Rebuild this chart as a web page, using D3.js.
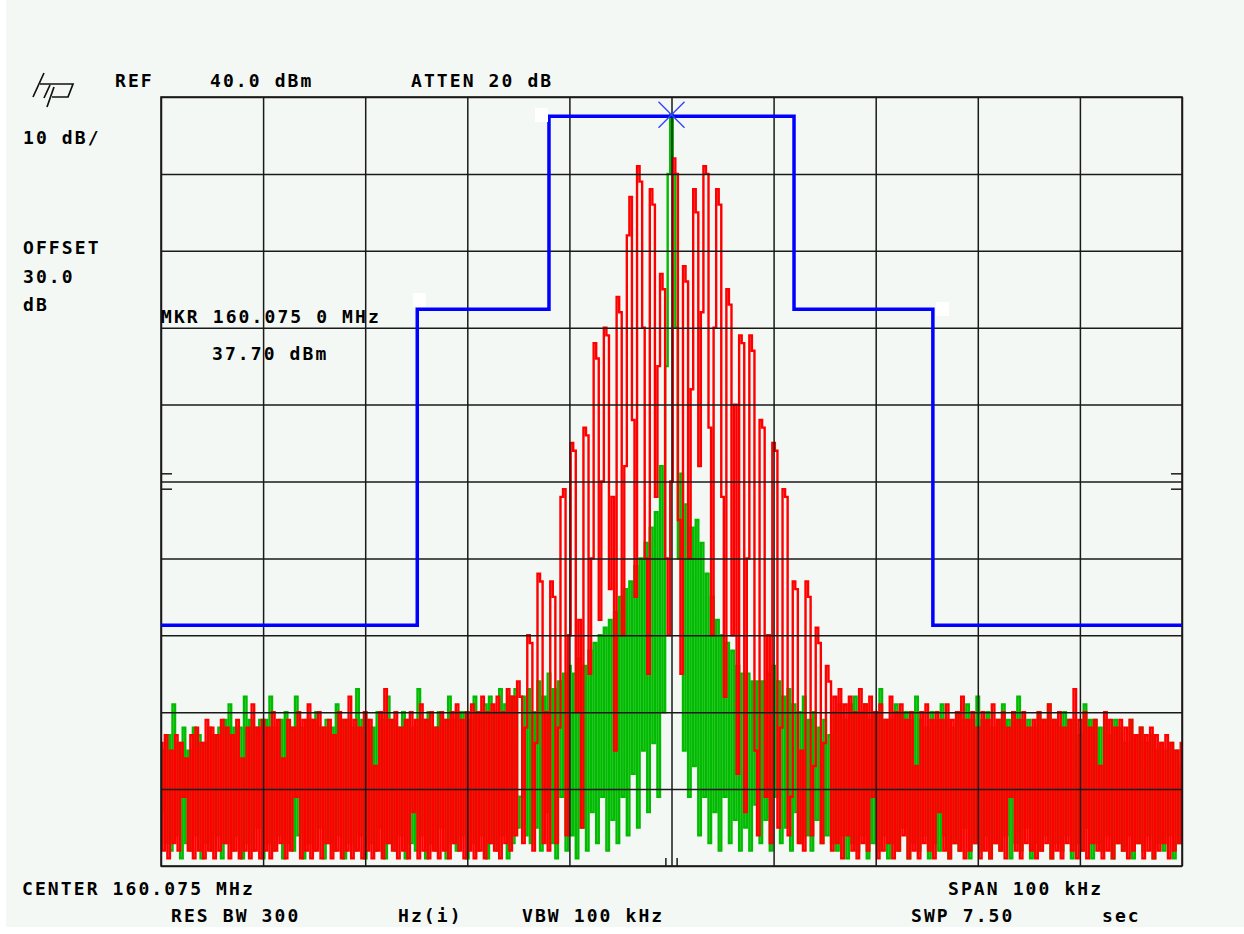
<!DOCTYPE html>
<html>
<head>
<meta charset="utf-8">
<script src="https://cdn.jsdelivr.net/npm/d3@7"></script>
<style>
  body { margin: 0; background: #ffffff; }
  text {
    font-family: "DejaVu Sans Mono", monospace;
    font-weight: bold;
    font-size: 18px;
    letter-spacing: 2.1px;
    fill: #000;
  }
</style>
</head>
<body>
<div id="chart"></div>
<script>
// trace points: 401 points across the 100 kHz span, levels in dBm
const redLeft = [
  -44,-58,-43,-59,-45,-57,-43,-58,-44,-51,
  -46,-58,-43,-59,-42,-58,-44,-59,-41,-58,
  -42,-59,-43,-58,-41,-57,-42,-59,-43,-58,
  -41,-59,-46,-58,-42,-59,-39,-58,-42,-59,
  -41,-58,-42,-59,-40,-58,-41,-57,-46,-59,
  -41,-58,-42,-51,-40,-59,-41,-58,-39,-59,
  -41,-58,-40,-59,-42,-57,-41,-59,-43,-58,
  -40,-59,-41,-58,-38,-59,-41,-58,-42,-59,
  -40,-58,-41,-59,-47,-58,-40,-59,-37,-57,
  -41,-58,-40,-59,-42,-58,-41,-59,-40,-53,
  -41,-59,-39,-58,-41,-59,-40,-58,-42,-59,
  -40,-58,-41,-59,-40,-57,-39,-58,-41,-59,
  -40,-58,-39,-59,-40,-58,-38,-59,-40,-57,
  -39,-58,-38,-59,-40,-57,-37,-58,-38,-56,
  -36
];
const redCenter = [
  -38,-57,-42,-30,-31,-58,-44,-22,-23,-57,
  -40,-58,-23,-25,-57,-42,-12,-11,-56,-30,
  -5,-6,-40,-28,-55,-3,-4,-35,-20,8,
  6,-28,-10,10,9,-24,-12,-45,14,12,
  -30,-8,22,27,-2,-25,31,29,10,-20,
  -35,28,26,-12,5,17,15,-20,-30,-10,
  32,30,-15,-35,18,16,-20,2,28,25,
  -8,12,31,30,-3,-30,10,28,26,-12,
  -38,15,13,-30,0,-48,9,8,-53,-20,
  9,7,-45,-56,-2,-3,-51,-30,-57,-5,
  -6,-55,-42,-11,-12,-56,-51,-23,-24,-57,
  -45,-58,-23,-25,-56,-47,-29,-31,-57,-44,
  -34,-36
];
const redRight = [
  -58,-38,-57,-37,-59,-39,-56,-38,-58,-40,
  -59,-37,-57,-39,-58,-38,-51,-40,-59,-39,
  -58,-41,-57,-38,-59,-40,-58,-39,-56,-41,
  -59,-40,-58,-47,-59,-40,-57,-39,-58,-41,
  -59,-40,-53,-41,-58,-39,-59,-41,-57,-40,
  -58,-38,-59,-41,-58,-40,-57,-42,-59,-40,
  -58,-41,-59,-39,-57,-41,-58,-40,-59,-42,
  -51,-40,-58,-41,-59,-40,-57,-42,-58,-41,
  -59,-40,-58,-41,-57,-39,-59,-41,-58,-40,
  -59,-42,-57,-41,-58,-37,-59,-41,-58,-40,
  -59,-42,-57,-41,-58,-47,-59,-40,-58,-41,
  -59,-42,-57,-41,-58,-42,-59,-41,-58,-43,
  -57,-42,-59,-43,-58,-42,-59,-43,-58,-44,
  -57,-43,-59,-44,-58,-45,-57,-44
];
const greenLeft = [
  -53,-45,-57,-43,-58,-39,-56,-44,-59,-42,
  -57,-45,-58,-42,-56,-43,-59,-44,-57,-42,
  -58,-43,-56,-42,-59,-41,-57,-39,-58,-42,
  -56,-42,-59,-38,-57,-41,-58,-42,-55,-41,
  -59,-41,-57,-38,-58,-42,-56,-41,-59,-40,
  -57,-42,-58,-38,-56,-42,-59,-41,-57,-41,
  -58,-40,-55,-42,-59,-41,-57,-42,-58,-39,
  -56,-41,-59,-41,-57,-42,-58,-37,-56,-41,
  -59,-41,-57,-42,-58,-40,-55,-41,-59,-38,
  -57,-41,-58,-42,-56,-40,-59,-41,-57,-42,
  -58,-37,-56,-41,-59,-40,-57,-42,-58,-40,
  -55,-41,-59,-38,-57,-41,-58,-40,-56,-40,
  -59,-41,-57,-38,-58,-40,-56,-39,-59,-38,
  -57,-40,-58,-37,-56,-39,-59,-38,-57,-37,
  -55
];
const greenCenter = [
  -51,-38,-56,-37,-57,-40,-55,-36,-58,-38,
  -53,-35,-57,-37,-59,-36,-51,-35,-58,-34,
  -56,-35,-59,-33,-55,-34,-58,-32,-53,-31,
  -57,-30,-51,-29,-58,-28,-54,-27,-57,-25,
  -51,-24,-56,-23,-48,-21,-55,-20,-45,-18,
  -53,-16,-44,-14,-51,-8,-40,5,30,37.7,
  30,10,-20,-9,-45,-13,-51,-16,-47,-15,
  -56,-18,-51,-22,-57,-25,-53,-28,-58,-30,
  -51,-31,-57,-32,-54,-34,-58,-35,-55,-35,
  -58,-36,-52,-36,-57,-36,-54,-35,-58,-34,
  -51,-36,-57,-38,-55,-37,-58,-39,-53,-40,
  -57,-38,-56,-41,-58,-40,-54,-42,-57,-41,
  -56,-43
];
const greenRight = [
  -57,-40,-58,-39,-56,-41,-59,-39,-57,-38,
  -58,-40,-56,-39,-59,-41,-57,-40,-58,-37,
  -56,-41,-59,-41,-57,-39,-58,-40,-55,-40,
  -59,-41,-57,-38,-58,-41,-56,-42,-59,-40,
  -57,-41,-58,-39,-56,-41,-59,-42,-57,-40,
  -58,-41,-55,-39,-59,-41,-57,-38,-58,-41,
  -56,-40,-59,-42,-57,-41,-58,-39,-56,-41,
  -59,-40,-57,-38,-58,-41,-55,-41,-59,-42,
  -57,-40,-58,-41,-56,-39,-59,-41,-57,-42,
  -58,-40,-56,-41,-59,-41,-57,-43,-58,-39,
  -55,-41,-59,-41,-57,-42,-58,-41,-56,-43,
  -59,-41,-57,-42,-58,-44,-56,-41,-59,-43,
  -57,-42,-58,-44,-56,-43,-59,-45,-57,-44,
  -58,-45,-56,-44,-59,-45,-57,-47
];

// limit mask (kHz offset from center, dBm)
const maskFreq  = [-50, -24.9, -24.9, -12, -12, 12, 12, 25.6, 25.6, 50];
const maskLevel = [-28.7, -28.7, 12.4, 12.4, 37.5, 37.5, 12.4, 12.4, -28.7, -28.7];

const markerFreq = 0;
const markerLevel = 37.7;

const freqTicks = [-50, -40, -30, -20, -10, 0, 10, 20, 30, 40, 50];
const levelTicks = [-60, -50, -40, -30, -20, -10, 0, 10, 20, 30, 40];

const redTrace = redLeft.concat(redCenter, redRight);
const greenTrace = greenLeft.concat(greenCenter, greenRight);

const W = 1244, H = 934;
const svg = d3.select("#chart").append("svg")
    .attr("width", W)
    .attr("height", H);

svg.append("rect")
    .attr("x", 6).attr("y", 0)
    .attr("width", W - 6).attr("height", 927)
    .attr("fill", "#f4f8f5");

const x = d3.scaleLinear().domain([-50, 50]).range([161, 1182]);
const y = d3.scaleLinear().domain([-60, 40]).range([866, 97]);
const xi = d3.scaleLinear().domain([0, redTrace.length - 1]).range([161, 1182]);

const plot = svg.append("g");

// traces, drawn as steps like the analyzer display
const line = d3.line()
    .curve(d3.curveStep)
    .x((d, i) => xi(i))
    .y(d => y(d));

plot.append("path")
    .datum(greenTrace)
    .attr("d", line)
    .attr("fill", "none")
    .attr("stroke", "#00bb00")
    .attr("stroke-width", 2.4);

plot.append("path")
    .datum(redTrace)
    .attr("d", line)
    .attr("fill", "none")
    .attr("stroke", "#ff0000")
    .attr("stroke-width", 2.4);

// graticule
const plotH = y(-60) - y(40);
const plotW = x(50) - x(-50);

const gx = svg.append("g")
    .attr("transform", `translate(0,${y(-60)})`)
    .call(d3.axisBottom(x).tickValues(freqTicks).tickSize(-plotH).tickFormat(""));
const gy = svg.append("g")
    .attr("transform", `translate(${x(-50)},0)`)
    .call(d3.axisLeft(y).tickValues(levelTicks).tickSize(-plotW).tickFormat(""));
[gx, gy].forEach(g => {
    g.select(".domain").remove();
    g.selectAll("line").attr("stroke", "#1a1a1a").attr("stroke-width", 1.5);
});

svg.append("rect")
    .attr("x", x(-50)).attr("y", y(40))
    .attr("width", plotW).attr("height", plotH)
    .attr("fill", "none")
    .attr("stroke", "#1a1a1a")
    .attr("stroke-width", 1.6);

// small marks
const marks = svg.append("g").attr("stroke", "#1a1a1a").attr("stroke-width", 1.5);
[-9, -11].forEach(v => {
    marks.append("line").attr("x1", x(-50)).attr("x2", x(-50) + 11).attr("y1", y(v)).attr("y2", y(v));
    marks.append("line").attr("x1", x(50) - 11).attr("x2", x(50)).attr("y1", y(v)).attr("y2", y(v));
});
[-0.55, 0.55].forEach(f => {
    marks.append("line").attr("x1", x(f)).attr("x2", x(f)).attr("y1", y(-60)).attr("y2", y(-60) - 8);
});

// limit line
svg.append("path")
    .datum(maskFreq.map((f, i) => [f, maskLevel[i]]))
    .attr("d", d3.line().x(d => x(d[0])).y(d => y(d[1])))
    .attr("fill", "none")
    .attr("stroke", "#0000ff")
    .attr("stroke-width", 3.5);

// little white squares at the mask corners
[[535, 108], [413, 293], [936, 302]].forEach(p => {
    svg.append("rect").attr("x", p[0]).attr("y", p[1])
        .attr("width", 13).attr("height", 14).attr("fill", "#ffffff");
});

// marker
const mx = x(markerFreq), my = y(markerLevel);
svg.append("path")
    .attr("d", `M${mx - 13},${my - 13}L${mx + 13},${my + 13}M${mx - 13},${my + 13}L${mx + 13},${my - 13}`)
    .attr("stroke", "#3344ff")
    .attr("stroke-width", 1.4);

// hp logo
svg.append("path")
    .attr("d", "M33,97L44,73 M40,84L73,84L68,97L52,97 M54,87L47,107 M50,85L44,98")
    .attr("fill", "none")
    .attr("stroke", "#111")
    .attr("stroke-width", 1.7);

// annotation text
const labels = [
    ["REF", 115, 87],
    ["40.0 dBm", 210, 87],
    ["ATTEN 20 dB", 411, 87],
    ["10 dB/", 23, 144],
    ["OFFSET", 23, 254],
    ["30.0", 23, 283],
    ["dB", 23, 311],
    ["MKR 160.075 0 MHz", 161, 323],
    ["37.70 dBm", 212, 360],
    ["CENTER 160.075 MHz", 22, 895],
    ["SPAN 100 kHz", 948, 895],
    ["RES BW 300", 171, 922],
    ["Hz(i)", 398, 922],
    ["VBW 100 kHz", 522, 922],
    ["SWP 7.50", 911, 922],
    ["sec", 1102, 922]
];
svg.selectAll("text.lbl")
    .data(labels)
    .join("text")
    .attr("class", "lbl")
    .attr("x", d => d[1])
    .attr("y", d => d[2])
    .text(d => d[0]);
</script>
</body>
</html>
